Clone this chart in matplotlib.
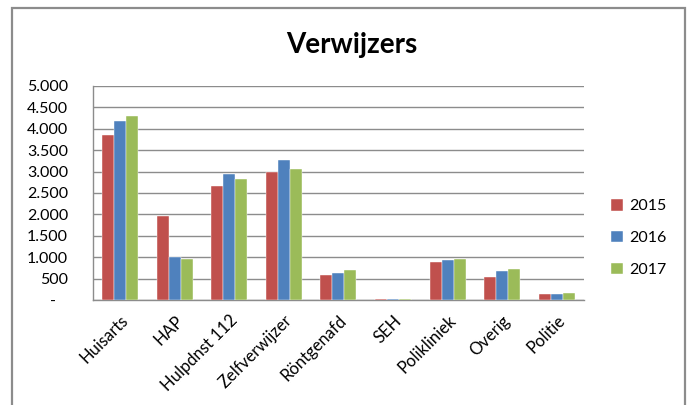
import matplotlib
matplotlib.use("Agg")
import matplotlib.pyplot as plt
import numpy as np
from matplotlib.patches import Rectangle
from matplotlib.ticker import FuncFormatter

plt.rcParams['font.family'] = ['Lato', 'DejaVu Sans']

# data
categories = ['Huisarts', 'HAP', 'Hulpdnst 112', 'Zelfverwijzer', 'Röntgenafd',
              'SEH', 'Polikliniek', 'Overig', 'Politie']
years = ['2015', '2016', '2017']
v2015 = [3850, 1970, 2660, 3000, 590, 20, 890, 540, 135]
v2016 = [4190, 1000, 2945, 3265, 640, 20, 935, 680, 135]
v2017 = [4290, 965, 2820, 3055, 700, 15, 965, 720, 160]
colors = ['#C0504D', '#4F81BD', '#9BBB59']

fig = plt.figure(figsize=(6.87, 4.05), dpi=100)
ax = fig.add_axes([0.1354, 0.2593, 0.850 - 0.1354, 0.7877 - 0.2593])

x = np.arange(len(categories))
w = 0.22
for i, (vals, c) in enumerate(zip([v2015, v2016, v2017], colors)):
    ax.bar(x + (i - 1) * w, vals, width=w, color=c, label=years[i],
           edgecolor='white', linewidth=0.3, zorder=3)

ax.set_xlim(-0.5, len(categories) - 0.5)
ax.set_ylim(0, 5000)
ax.set_yticks(np.arange(0, 5001, 500))


def fmt(v, pos):
    if v == 0:
        return '-   '
    return f'{int(v):,}'.replace(',', '.')


ax.yaxis.set_major_formatter(FuncFormatter(fmt))
ax.grid(axis='y', color='#8c8c8c', linewidth=1, zorder=0)
ax.tick_params(axis='y', length=0, pad=18, labelsize=11.5, colors='#000000')
ax.tick_params(axis='x', length=0, pad=9, labelsize=12)
ax.set_xticks(x)
ax.set_xticklabels(categories, rotation=45, ha='right', rotation_mode='anchor')
for s in ['top', 'right']:
    ax.spines[s].set_visible(False)
ax.spines['left'].set_color('#8c8c8c')
ax.spines['bottom'].set_color('#8c8c8c')
ax.spines['left'].set_linewidth(1)
ax.spines['bottom'].set_linewidth(1)

fig.text(352 / 687, 1 - 45 / 405, 'Verwijzers', ha='center', va='center',
         fontsize=20, fontweight='bold')

fig.legend(loc='center left', bbox_to_anchor=(611 / 687, 1 - 238 / 405),
           frameon=False, fontsize=11.5, handlelength=0.75, handleheight=0.75,
           handletextpad=0.4, labelspacing=1.1, borderpad=0, borderaxespad=0)

fig.add_artist(Rectangle((12 / 687, -0.1), (685 - 12) / 687, 1.1 - 8 / 405,
                         transform=fig.transFigure, fill=False,
                         edgecolor='#8c8c8c', linewidth=1.6))

fig.savefig('out.png', dpi=100)
